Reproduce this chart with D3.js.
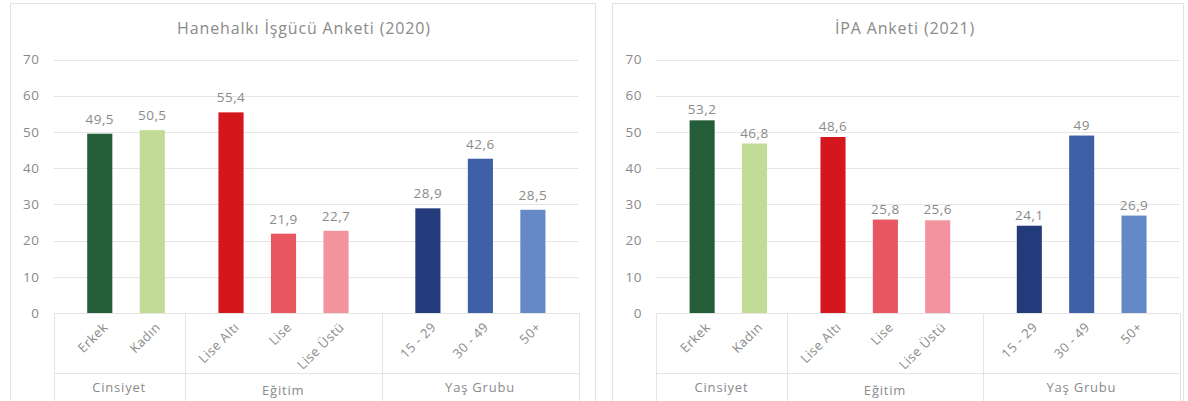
<!DOCTYPE html>
<html lang="tr">
<head>
<meta charset="utf-8">
<script src="https://cdn.jsdelivr.net/npm/d3@7"></script>
<style>
  html, body { margin: 0; padding: 0; background: #ffffff; }
  svg { display: block; }
  text { font-family: "Open Sans", "Noto Sans", sans-serif; fill: #8a8a8a; letter-spacing: 0.5px; }
</style>
</head>
<body>
<svg id="chart" width="1188" height="401"></svg>
<script>
// Category axis: two-level (group / category)
const groups = ["Cinsiyet", "Eğitim", "Yaş Grubu"];
const categories = ["Erkek", "Kadın", "Lise Altı", "Lise", "Lise Üstü", "15 - 29", "30 - 49", "50+"];
const categoryGroup = ["Cinsiyet", "Cinsiyet", "Eğitim", "Eğitim", "Eğitim", "Yaş Grubu", "Yaş Grubu", "Yaş Grubu"];

// Shares (%) per survey
const hiaValues = [49.5, 50.5, 55.4, 21.9, 22.7, 28.9, 42.6, 28.5];
const ipaValues = [53.2, 46.8, 48.6, 25.8, 25.6, 24.1, 49, 26.9];

const panelTitles = ["Hanehalkı İşgücü Anketi (2020)", "İPA Anketi (2021)"];
const yTicks = [0, 10, 20, 30, 40, 50, 60, 70];

const barColors = ["#235e38", "#c2dc98", "#d4161d", "#e85661", "#f2939e", "#233b7a", "#3f60a8", "#6588c7"];

const svg = d3.select("#chart");
const fmt = v => String(v).replace(".", ",");

const y = d3.scaleLinear().domain([0, 70]).range([313, 59.5]);

function drawPanel(cfg) {
  const g = svg.append("g");

  // card frame
  g.append("rect")
    .attr("x", cfg.cardLeft).attr("y", 3.5)
    .attr("width", cfg.cardRight - cfg.cardLeft).attr("height", 420)
    .attr("fill", "#fff").attr("stroke", "#e3e3e3").attr("stroke-width", 1);

  // title
  g.append("text")
    .attr("x", cfg.titleX).attr("y", 34)
    .attr("text-anchor", "middle")
    .style("font-size", "16px")
    .style("letter-spacing", "0.85px")
    .text(cfg.title);

  // horizontal gridlines + y tick labels
  g.selectAll(".grid").data(yTicks.filter(t => t > 0)).join("line")
    .attr("x1", cfg.plotLeft).attr("x2", cfg.plotRight)
    .attr("y1", d => Math.round(y(d)) + 0.5).attr("y2", d => Math.round(y(d)) + 0.5)
    .attr("stroke", "#e6e6e6").attr("stroke-width", 1);

  g.selectAll(".ytick").data(yTicks).join("text")
    .attr("x", cfg.plotLeft - 14).attr("y", d => y(d))
    .attr("dy", "0.35em")
    .attr("text-anchor", "end")
    .style("font-size", "13.5px")
    .text(d => d);

  // category scale; group extents follow the category bands
  const x = d3.scaleBand().domain(categories).range([cfg.plotLeft, cfg.plotRight]);
  const b = x.bandwidth();
  const groupExtent = grp => {
    const cats = categories.filter((c, i) => categoryGroup[i] === grp);
    return [x(cats[0]), x(cats[cats.length - 1]) + b, cats];
  };

  // bar centres inside each group
  const barCenter = {};
  groups.forEach(grp => {
    const [g0, , cats] = groupExtent(grp);
    const p = d3.scalePoint().domain(cats)
      .range([g0 + 0.705 * b, g0 + 0.705 * b + (cats.length - 1) * 0.8 * b]);
    cats.forEach(c => { barCenter[c] = p(c); });
  });

  const barW = 0.383 * b;
  const rows = categories.map((c, i) => ({ c, v: cfg.values[i], color: barColors[i] }));

  g.selectAll(".bar").data(rows).join("rect")
    .attr("x", d => barCenter[d.c] - barW / 2)
    .attr("y", d => y(d.v))
    .attr("width", barW)
    .attr("height", d => y(0) - y(d.v))
    .attr("fill", d => d.color);

  g.selectAll(".val").data(rows).join("text")
    .attr("x", d => barCenter[d.c])
    .attr("y", d => y(d.v) - cfg.labelGap)
    .attr("text-anchor", "middle")
    .style("font-size", "13.5px")
    .text(d => fmt(d.v));

  // category box lines
  const lineColor = "#e4e4e4";
  g.append("line")
    .attr("x1", cfg.plotLeft).attr("x2", cfg.plotRight)
    .attr("y1", 313.5).attr("y2", 313.5)
    .attr("stroke", lineColor);
  g.append("line")
    .attr("x1", cfg.plotLeft).attr("x2", cfg.plotRight)
    .attr("y1", 373.5).attr("y2", 373.5)
    .attr("stroke", lineColor);
  const bounds = [cfg.plotLeft].concat(groups.map(grp => groupExtent(grp)[1]));
  g.selectAll(".sep").data(bounds).join("line")
    .attr("x1", d => Math.round(d) + 0.5).attr("x2", d => Math.round(d) + 0.5)
    .attr("y1", 313).attr("y2", 410)
    .attr("stroke", lineColor);

  // rotated category labels
  g.selectAll(".cat").data(categories).join("text")
    .attr("transform", c => `translate(${barCenter[c] + 9},${328}) rotate(-45)`)
    .attr("text-anchor", "end")
    .style("font-size", "13px")
    .text(c => c);

  // group labels
  g.selectAll(".grp").data(groups).join("text")
    .attr("x", grp => { const e = groupExtent(grp); return (e[0] + e[1]) / 2; })
    .attr("y", grp => grp === "Eğitim" ? 395 : 392)
    .attr("text-anchor", "middle")
    .style("font-size", "13px")
    .style("letter-spacing", "0.8px")
    .text(grp => grp);
}

drawPanel({
  title: panelTitles[0], values: hiaValues, labelGap: 10,
  cardLeft: 10.5, cardRight: 595.5, titleX: 304,
  plotLeft: 53.5, plotRight: 578.5
});
drawPanel({
  title: panelTitles[1], values: ipaValues, labelGap: 6,
  cardLeft: 612.5, cardRight: 1183.5, titleX: 905,
  plotLeft: 656, plotRight: 1179.5
});
</script>
</body>
</html>
